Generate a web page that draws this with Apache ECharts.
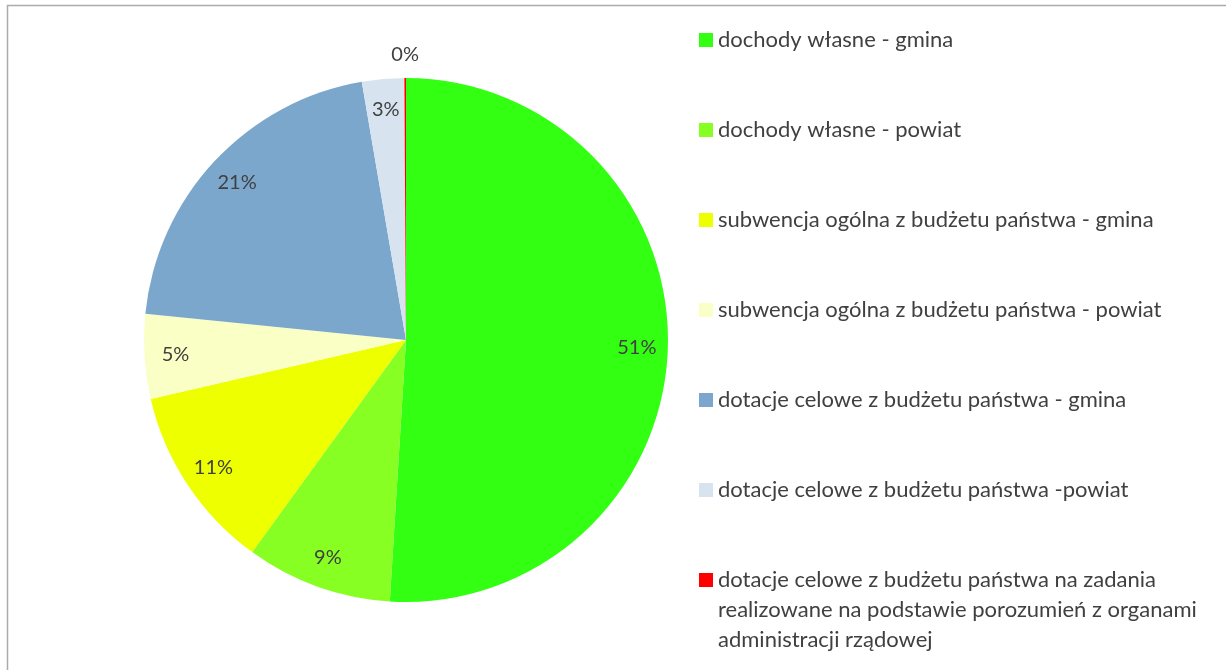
<!DOCTYPE html>
<html>
<head>
<meta charset="utf-8">
<script src="https://cdn.jsdelivr.net/npm/echarts@6/dist/echarts.min.js"></script>
<style>
html,body{margin:0;padding:0;background:#fff;}
#chart{width:1226px;height:670px;}
</style>
</head>
<body>
<div id="chart"></div>
<script>
const categories = [
  'dochody własne - gmina',
  'dochody własne - powiat',
  'subwencja ogólna z budżetu państwa - gmina',
  'subwencja ogólna z budżetu państwa - powiat',
  'dotacje celowe z budżetu państwa - gmina',
  'dotacje celowe z budżetu państwa -powiat',
  'dotacje celowe z budżetu państwa na zadania\nrealizowane na podstawie porozumień z organami\nadministracji rządowej'
];
const values = [50.97, 9.0, 11.4, 5.2, 20.7, 2.6, 0.1];
const colors = ['#33FF12', '#88FF22', '#EEFF00', '#FAFFC6', '#7BA7CC', '#D7E4F0', '#FF0000'];
const outsideLabel = [false, false, false, false, false, false, true];

const chart = echarts.init(document.getElementById('chart'), null, {renderer: 'canvas'});
const FONT = 'Lato, "Open Sans", sans-serif';
const fmt = p => Math.round(p.percent) + '%';

// legend icon: square centered in a tall box so every item (incl. the 3-line one) occupies the same slot
const ICON_CENTER = 'path://M0,0h0.01v0.01h-0.01z M0,68h14v14h-14z M0,149.99h0.01v0.01h-0.01z';

// multi-line legend names: pad with blank lines above so the first line sits level with the square
const legendFormatter = name => {
  const extra = name.split('\n').length - 1;
  return '\n'.repeat(extra) + name;
};

const mainData = categories.map((c, i) => ({name: c, value: values[i], itemStyle: {color: colors[i]}}));
const innerLabelData = categories.map((c, i) => ({name: c, value: values[i], label: {show: !outsideLabel[i]}}));
const outerLabelData = categories.map((c, i) => ({name: c, value: values[i], label: {show: outsideLabel[i]}}));

chart.setOption({
  animation: false,
  backgroundColor: '#ffffff',
  graphic: [{
    type: 'rect',
    shape: {x: 7.5, y: 5.5, width: 1400, height: 900},
    style: {fill: 'none', stroke: '#ababab', lineWidth: 1.5},
    silent: true, z: -10
  }],
  legend: {
    orient: 'vertical',
    left: 699,
    top: -35,
    padding: 0,
    height: 1000,
    itemWidth: 14,
    itemHeight: 150,
    itemGap: -60,
    icon: ICON_CENTER,
    selectedMode: false,
    formatter: legendFormatter,
    textStyle: {fontFamily: FONT, fontSize: 22, color: '#404040', lineHeight: 30},
    data: categories
  },
  series: [
    {
      type: 'pie',
      center: [406, 340],
      radius: [0, 262],
      startAngle: 90,
      clockwise: true,
      avoidLabelOverlap: false,
      label: {show: false},
      labelLine: {show: false},
      itemStyle: {borderWidth: 0},
      emphasis: {disabled: true},
      data: mainData
    },
    {
      type: 'pie',
      center: [406, 340],
      radius: [194, 262],
      startAngle: 90,
      clockwise: true,
      silent: true,
      avoidLabelOverlap: false,
      itemStyle: {color: 'rgba(0,0,0,0)', borderWidth: 0},
      label: {position: 'inside', formatter: fmt, fontFamily: FONT, fontSize: 20, color: '#404040'},
      labelLine: {show: false},
      emphasis: {disabled: true},
      data: innerLabelData
    },
    {
      type: 'pie',
      center: [406, 340],
      radius: [262, 302],
      startAngle: 90,
      clockwise: true,
      silent: true,
      avoidLabelOverlap: false,
      itemStyle: {color: 'rgba(0,0,0,0)', borderWidth: 0},
      label: {position: 'inside', formatter: fmt, fontFamily: FONT, fontSize: 20, color: '#404040'},
      labelLine: {show: false},
      emphasis: {disabled: true},
      data: outerLabelData
    }
  ]
});
</script>
</body>
</html>
